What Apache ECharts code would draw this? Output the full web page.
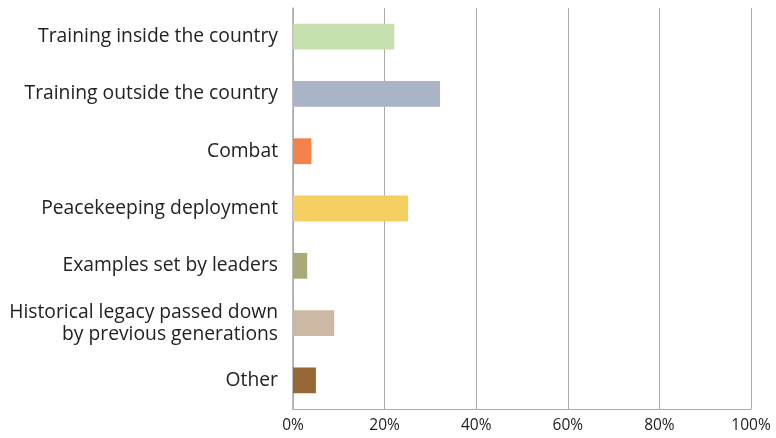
<!DOCTYPE html>
<html>
<head>
<meta charset="utf-8">
<script src="https://cdn.jsdelivr.net/npm/echarts@6/dist/echarts.min.js"></script>
<style>
  html, body { margin: 0; padding: 0; background: #fff; }
  #chart { width: 776px; height: 438px; }
</style>
</head>
<body>
<div id="chart"></div>
<script>
// categories top to bottom
const categories = [
  'Training inside the country',
  'Training outside the country',
  'Combat',
  'Peacekeeping deployment',
  'Examples set by leaders',
  'Historical legacy passed down\nby previous generations',
  'Other'
]
const values = [22.1, 32.1, 4.0, 25.1, 3.1, 9.0, 5.0]
const barColors = ['#c6dfae', '#a9b4c6', '#f4824a', '#f5cf62', '#aaa978', '#cdb8a3', '#956735']
const xTicks = [0, 20, 40, 60, 80, 100]

const chart = echarts.init(document.getElementById('chart'))
chart.setOption({
  animation: false,
  textStyle: { fontFamily: 'Open Sans' },
  grid: { left: 293, right: 25, top: 8, bottom: 29 },
  xAxis: {
    type: 'value',
    min: xTicks[0],
    max: xTicks[xTicks.length - 1],
    interval: 20,
    axisLine: { show: true, lineStyle: { color: '#aaa', width: 1 } },
    axisTick: { show: false },
    axisLabel: { color: '#222', fontSize: 15.5, margin: 9, formatter: '{value}%' },
    splitLine: { show: true, lineStyle: { color: '#aaa', width: 1 } }
  },
  yAxis: {
    type: 'category',
    inverse: true,
    data: categories,
    axisLine: { show: true, lineStyle: { color: '#aaa', width: 1.5 } },
    axisTick: { show: false },
    axisLabel: { color: '#222', fontSize: 19.3, margin: 15, lineHeight: 22, align: 'right' }
  },
  series: [{
    type: 'bar',
    data: values.map((v, i) => ({ value: v, itemStyle: { color: barColors[i] } })),
    barCategoryGap: '55%'
  }]
})
</script>
</body>
</html>
